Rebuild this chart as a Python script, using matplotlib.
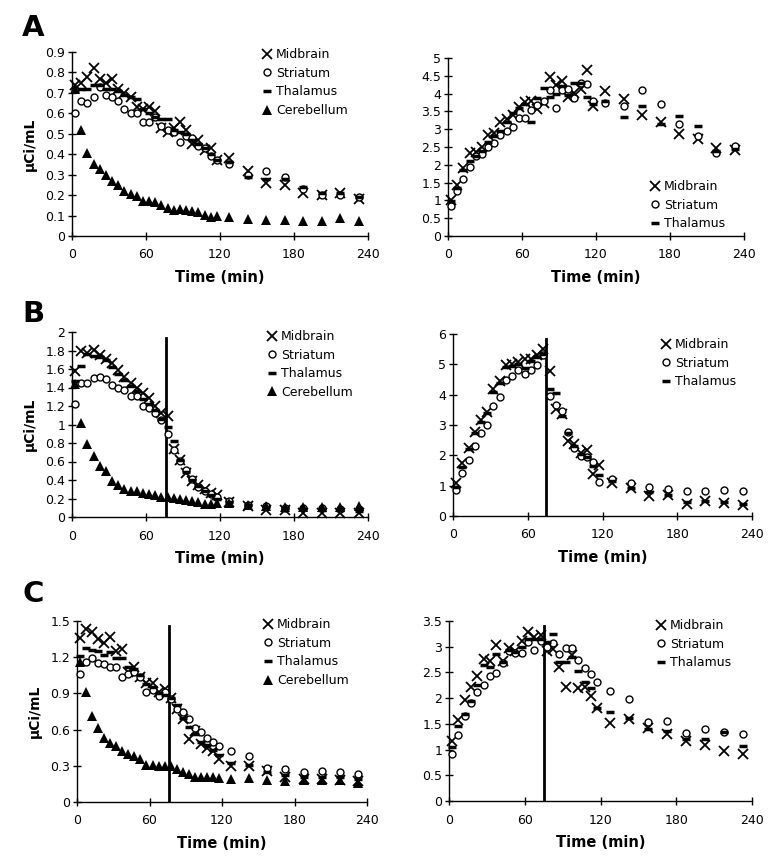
import numpy as np
import matplotlib
matplotlib.use('Agg')
import matplotlib.pyplot as plt
from matplotlib.lines import Line2D
from matplotlib.ticker import FuncFormatter

plt.rcParams['font.family'] = 'DejaVu Sans'

# sampling times (min)
t = [2.5, 7.5, 12.5, 17.5, 22.5, 27.5, 32.5, 37.5, 42.5, 47.5, 52.5, 57.5,
     62.5, 67.5, 72.5, 77.5, 82.5, 87.5, 92.5, 97.5, 102.5, 107.5, 112.5, 117.5,
     127.5, 142.5, 157.5, 172.5, 187.5, 202.5, 217.5, 232.5]

# ---- A ----
a_mid = [0.74, 0.75, 0.78, 0.82, 0.77, 0.75, 0.77, 0.72, 0.70, 0.68, 0.63, 0.62,
         0.63, 0.61, 0.53, 0.51, 0.53, 0.56, 0.52, 0.45, 0.47, 0.42, 0.43, 0.37,
         0.38, 0.32, 0.26, 0.25, 0.21, 0.20, 0.21, 0.18]
a_str = [0.60, 0.66, 0.65, 0.68, 0.73, 0.69, 0.68, 0.66, 0.62, 0.60, 0.60, 0.56,
         0.56, 0.58, 0.54, 0.52, 0.51, 0.46, 0.49, 0.48, 0.44, 0.43, 0.39, 0.37,
         0.35, 0.30, 0.32, 0.29, 0.23, 0.20, 0.20, 0.19]
a_tha = [0.71, 0.72, 0.72, 0.74, 0.74, 0.72, 0.72, 0.71, 0.69, 0.68, 0.67, 0.62,
         0.60, 0.58, 0.57, 0.57, 0.52, 0.51, 0.50, 0.47, 0.45, 0.43, 0.40, 0.37,
         0.36, 0.29, 0.28, 0.28, 0.24, 0.21, 0.21, 0.19]
a_cer = [0.72, 0.52, 0.405, 0.35, 0.33, 0.30, 0.27, 0.25, 0.22, 0.205, 0.195, 0.17,
         0.17, 0.165, 0.15, 0.135, 0.125, 0.13, 0.125, 0.12, 0.115, 0.105, 0.095, 0.10,
         0.095, 0.085, 0.08, 0.08, 0.075, 0.075, 0.09, 0.075]

a2_mid = [1.02, 1.43, 1.92, 2.32, 2.37, 2.50, 2.84, 2.88, 3.21, 3.29, 3.40, 3.62,
          3.76, 3.78, 3.56, 3.73, 4.48, 4.25, 4.34, 3.90, 4.01, 4.13, 4.65, 3.66,
          4.06, 3.85, 3.40, 3.21, 2.86, 2.72, 2.48, 2.42]
a2_str = [0.84, 1.26, 1.59, 1.95, 2.25, 2.30, 2.51, 2.62, 2.84, 2.96, 3.07, 3.31,
          3.31, 3.54, 3.68, 3.78, 4.11, 3.59, 4.09, 4.14, 3.89, 4.30, 4.28, 3.78,
          3.75, 3.64, 4.11, 3.71, 3.14, 2.81, 2.32, 2.53]
a2_tha = [0.98, 1.35, 1.85, 2.10, 2.25, 2.40, 2.65, 2.80, 2.95, 3.20, 3.45, 3.60,
          3.70, 3.20, 3.88, 4.15, 3.90, 4.00, 4.20, 3.95, 4.30, 4.30, 3.90, 3.70,
          3.80, 3.35, 3.65, 3.15, 3.38, 3.08, 2.38, 2.45]

# ---- B ----
b_mid = [1.58, 1.79, 1.77, 1.81, 1.75, 1.71, 1.66, 1.59, 1.51, 1.45, 1.39, 1.34,
         1.29, 1.20, 1.12, 1.09, 0.73, 0.62, 0.48, 0.39, 0.35, 0.30, 0.26, 0.24,
         0.16, 0.12, 0.08, 0.08, 0.04, 0.04, 0.04, 0.04]
b_str = [1.22, 1.45, 1.45, 1.50, 1.51, 1.49, 1.43, 1.40, 1.37, 1.31, 1.31, 1.20,
         1.18, 1.12, 1.05, 0.90, 0.72, 0.61, 0.51, 0.41, 0.32, 0.28, 0.25, 0.22,
         0.17, 0.13, 0.12, 0.10, 0.10, 0.10, 0.09, 0.09]
b_tha = [1.47, 1.63, 1.76, 1.74, 1.73, 1.70, 1.62, 1.55, 1.48, 1.42, 1.36, 1.28,
         1.22, 1.16, 1.06, 0.97, 0.82, 0.62, 0.49, 0.40, 0.33, 0.28, 0.24, 0.20,
         0.16, 0.13, 0.11, 0.10, 0.09, 0.08, 0.08, 0.07]
b_cer = [1.44, 1.02, 0.79, 0.66, 0.55, 0.50, 0.39, 0.35, 0.30, 0.28, 0.28, 0.26,
         0.25, 0.24, 0.22, 0.22, 0.21, 0.19, 0.18, 0.17, 0.16, 0.14, 0.14, 0.15,
         0.15, 0.13, 0.12, 0.11, 0.11, 0.11, 0.11, 0.12]

b2_mid = [1.09, 1.75, 2.25, 2.77, 3.15, 3.43, 4.18, 4.45, 4.97, 5.00, 5.08, 5.19,
          5.19, 5.30, 5.52, 4.77, 3.54, 3.37, 2.47, 2.38, 2.09, 2.16, 1.37, 1.67,
          1.09, 0.93, 0.66, 0.68, 0.38, 0.49, 0.44, 0.35]
b2_str = [0.85, 1.42, 1.84, 2.31, 2.74, 3.01, 3.63, 3.92, 4.47, 4.60, 4.80, 4.69,
          4.82, 4.97, 5.30, 3.95, 3.65, 3.46, 2.77, 2.25, 1.98, 1.95, 1.78, 1.12,
          1.21, 1.10, 0.96, 0.88, 0.82, 0.81, 0.87, 0.81]
b2_tha = [0.95, 1.60, 2.20, 2.75, 3.10, 3.40, 4.10, 4.40, 4.90, 4.95, 5.00, 4.89,
          5.10, 5.25, 5.35, 4.18, 4.05, 3.30, 2.75, 2.30, 2.05, 1.95, 1.65, 1.36,
          1.15, 0.92, 0.80, 0.70, 0.45, 0.50, 0.45, 0.40]

# ---- C ----
c_mid = [1.36, 1.43, 1.41, 1.35, 1.32, 1.37, 1.25, 1.27, 1.08, 1.12, 1.04, 0.99,
         0.99, 0.91, 0.94, 0.86, 0.77, 0.69, 0.52, 0.59, 0.48, 0.45, 0.42, 0.36,
         0.30, 0.30, 0.26, 0.21, 0.19, 0.19, 0.18, 0.17]
c_str = [1.06, 1.16, 1.19, 1.15, 1.14, 1.12, 1.12, 1.04, 1.06, 1.08, 1.04, 0.91,
         0.93, 0.88, 0.91, 0.85, 0.77, 0.75, 0.69, 0.61, 0.58, 0.53, 0.50, 0.46,
         0.42, 0.38, 0.28, 0.27, 0.25, 0.26, 0.25, 0.23]
c_tha = [1.21, 1.28, 1.26, 1.25, 1.22, 1.24, 1.19, 1.19, 1.12, 1.10, 1.05, 0.98,
         0.95, 0.90, 0.89, 0.86, 0.80, 0.70, 0.62, 0.56, 0.50, 0.47, 0.43, 0.39,
         0.32, 0.31, 0.25, 0.22, 0.21, 0.21, 0.21, 0.19]
c_cer = [1.16, 0.91, 0.71, 0.61, 0.53, 0.49, 0.46, 0.42, 0.40, 0.38, 0.36, 0.31,
         0.31, 0.30, 0.30, 0.30, 0.27, 0.25, 0.23, 0.21, 0.21, 0.21, 0.21, 0.20,
         0.19, 0.20, 0.18, 0.17, 0.18, 0.18, 0.18, 0.16]

c2_mid = [1.17, 1.57, 1.96, 2.22, 2.43, 2.76, 2.72, 3.04, 2.72, 2.97, 2.91, 3.12,
          3.29, 3.19, 3.23, 2.91, 2.95, 2.61, 2.22, 2.83, 2.20, 2.22, 2.04, 1.81,
          1.51, 1.60, 1.41, 1.30, 1.16, 1.09, 0.97, 0.91]
c2_str = [0.92, 1.29, 1.66, 1.90, 2.11, 2.26, 2.44, 2.49, 2.69, 2.91, 2.87, 2.87,
          3.09, 2.93, 3.11, 2.99, 3.07, 2.85, 2.98, 2.98, 2.74, 2.59, 2.46, 2.32,
          2.14, 1.99, 1.54, 1.55, 1.33, 1.40, 1.35, 1.30]
c2_tha = [1.05, 1.45, 1.70, 1.95, 2.25, 2.65, 2.60, 2.85, 2.70, 2.93, 2.90, 3.00,
          3.15, 3.15, 3.15, 3.10, 3.25, 2.70, 2.70, 2.80, 2.52, 2.32, 2.20, 1.80,
          1.73, 1.62, 1.40, 1.37, 1.20, 1.20, 1.35, 1.07]

W, H = 783, 865
fig = plt.figure(figsize=(W / 100, H / 100), dpi=100)

styles = {
    'Midbrain': dict(marker='x', ms=7, mew=1.3, mec='black', mfc='none'),
    'Striatum': dict(marker='o', ms=5, mew=1.0, mec='black', mfc='white'),
    'Thalamus': dict(marker='_', ms=6, mew=2.5, mec='black'),
    'Cerebellum': dict(marker='^', ms=7, mew=0, mfc='black'),
}


def panel(px, series, ymax, ystep, leg_xy, vline=None, ylabel=False):
    x0, y0, x1, y1 = px
    ax = fig.add_axes([x0 / W, 1 - y1 / H, (x1 - x0) / W, (y1 - y0) / H])
    if vline is not None:
        ax.axvline(vline, ymin=0, ymax=0.97, color='black', lw=2, zorder=1)
    handles = []
    for name, vals in series:
        ax.plot(t, vals, ls='none', zorder=3, clip_on=False, **styles[name])
        handles.append(Line2D([], [], ls='none', **styles[name]))
    ax.set_xlim(0, 240)
    ax.set_ylim(0, ymax)
    ax.set_xticks([0, 60, 120, 180, 240])
    ax.set_yticks(np.arange(0, ymax + ystep / 2, ystep))
    ax.yaxis.set_major_formatter(FuncFormatter(lambda v, p: f'{round(v, 2):g}'))
    ax.tick_params(direction='inout', length=6, width=1, labelsize=9, colors='black')
    ax.tick_params(axis='y', pad=2)
    ax.tick_params(axis='x', pad=6)
    for s in ['top', 'right']:
        ax.spines[s].set_visible(False)
    for s in ['left', 'bottom']:
        ax.spines[s].set_linewidth(1)
    ax.set_xlabel('Time (min)', fontsize=10.5, fontweight='bold', labelpad=6)
    if ylabel:
        ax.set_ylabel('μCi/mL', fontsize=10, fontweight='bold', labelpad=6)
    ax.legend(handles, [n for n, _ in series], loc='upper left',
              bbox_to_anchor=(leg_xy[0] / W, 1 - leg_xy[1] / H),
              bbox_transform=fig.transFigure, frameon=False, fontsize=9,
              handlelength=0.9, handletextpad=0.3, labelspacing=0.45,
              borderpad=0, borderaxespad=0)
    return ax


panel((72, 52, 368, 236),
      [('Midbrain', a_mid), ('Striatum', a_str), ('Thalamus', a_tha), ('Cerebellum', a_cer)],
      0.9, 0.1, (261, 48), ylabel=True)
panel((448, 58, 744, 236),
      [('Midbrain', a2_mid), ('Striatum', a2_str), ('Thalamus', a2_tha)],
      5, 0.5, (649, 180))
panel((72, 332, 368, 517),
      [('Midbrain', b_mid), ('Striatum', b_str), ('Thalamus', b_tha), ('Cerebellum', b_cer)],
      2, 0.2, (266, 330), vline=76, ylabel=True)
panel((453, 334, 752, 516),
      [('Midbrain', b2_mid), ('Striatum', b2_str), ('Thalamus', b2_tha)],
      6, 1, (660, 338), vline=75)
panel((77, 621, 367, 802),
      [('Midbrain', c_mid), ('Striatum', c_str), ('Thalamus', c_tha), ('Cerebellum', c_cer)],
      1.5, 0.3, (262, 618), vline=76, ylabel=True)
panel((449, 621, 752, 801),
      [('Midbrain', c2_mid), ('Striatum', c2_str), ('Thalamus', c2_tha)],
      3.5, 0.5, (655, 619), vline=75)

for letter, ypx in [('A', 28), ('B', 314), ('C', 594)]:
    fig.text(22 / W, 1 - ypx / H, letter, fontsize=21, fontweight='bold',
             ha='left', va='center')

fig.savefig('out.png', dpi=100)
